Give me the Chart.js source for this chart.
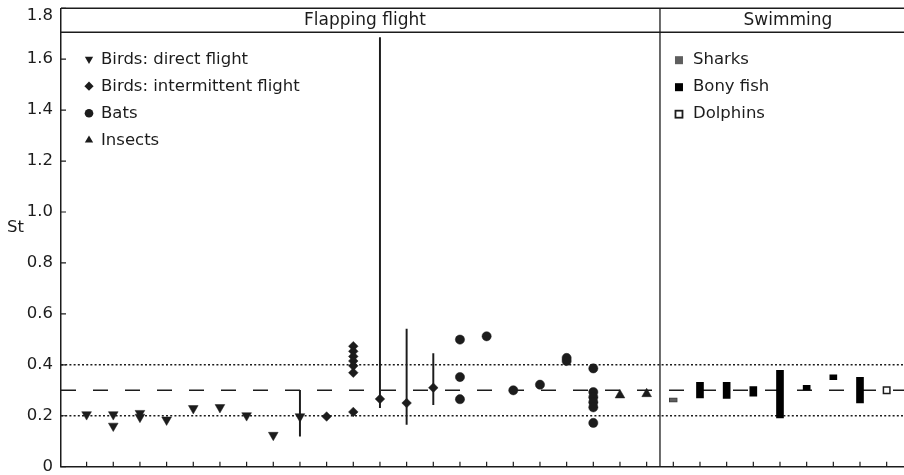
<!DOCTYPE html>
<html lang="en">
<head>
<meta charset="UTF-8">
<title>Strouhal number of flying and swimming animals</title>
<script src="https://cdn.jsdelivr.net/npm/chart.js@4/dist/chart.umd.min.js"></script>
<style>
  html, body { margin: 0; padding: 0; background: #fff; }
  canvas { display: block; }
</style>
</head>
<body>
<canvas id="st" width="904" height="475"></canvas>
<script>
// ---------------------------------------------------------------------------
// Data: one x slot per species / study, St values read per slot
// ---------------------------------------------------------------------------

const xSlots = [1, 2, 3, 4, 5, 6, 7, 8, 9, 10, 11, 12, 13, 14, 15, 16, 17, 18, 19, 20, 21, 22,
                23, 24, 25, 26, 27, 28, 29, 30, 31];
const yTicks = [0, 0.2, 0.4, 0.6, 0.8, 1.0, 1.2, 1.4, 1.6, 1.8];

// Flapping flight
const directX  = [1, 2, 2, 3, 3, 4, 5, 6, 7, 8, 9];
const directSt = [0.205, 0.205, 0.16, 0.21, 0.195, 0.184, 0.229, 0.233, 0.201, 0.124, 0.197];

const interX  = [10, 11, 11, 11, 11, 11, 11, 11, 12, 13, 14];
const interSt = [0.197, 0.473, 0.453, 0.433, 0.415, 0.396, 0.369, 0.215, 0.266, 0.25, 0.31];

const batX  = [15, 15, 15, 16, 17, 18, 19, 19, 20, 20, 20, 20, 20, 20];
const batSt = [0.499, 0.352, 0.265, 0.512, 0.3, 0.322, 0.427, 0.415,
               0.386, 0.293, 0.273, 0.253, 0.233, 0.172];

const insectX  = [21, 22];
const insectSt = [0.281, 0.286];

// Range whiskers on some flight entries
const errX  = [9, 12, 13, 14];
const errLo = [0.12, 0.232, 0.166, 0.244];
const errHi = [0.30, 1.685, 0.54, 0.444];

// Swimming (ranges)
const sharkX  = [23];
const sharkLo = [0.253];
const sharkHi = [0.27];

const fishX  = [24, 25, 26, 27, 28, 29, 30];
const fishLo = [0.27, 0.268, 0.277, 0.192, 0.301, 0.342, 0.25];
const fishHi = [0.331, 0.331, 0.315, 0.378, 0.319, 0.361, 0.351];

const dolphinX  = [31];
const dolphinSt = [0.3];

// Reference band
const dottedAt = [0.2, 0.4];
const dashedAt = [0.3];

// Panels
const panelSplit   = 22.5;
const headerBottom = 1.706;
const headerText   = ['Flapping flight', 'Swimming'];
const headerAt     = [11.44, 27.3];

const flightLegend = ['Birds: direct flight', 'Birds: intermittent flight', 'Bats', 'Insects'];
const swimLegend   = ['Sharks', 'Bony fish', 'Dolphins'];

// ---------------------------------------------------------------------------

const X_MIN = 0.04;
const X_MAX = 31.65;
const INK   = '#1c1c1c';
const FONT  = '"DejaVu Sans", "Liberation Sans", Arial, sans-serif';
const TICK_FONT = { family: FONT, size: 16.5, lineHeight: 1 };

const pts   = (xs, ys) => xs.map((x, i) => ({ x, y: ys[i] }));
const spans = (xs, lo, hi) => xs.map((x, i) => ({ x, y: [lo[i], hi[i]] }));
const hline = (v) => [{ x: X_MIN, y: v }, { x: X_MAX, y: v }];

const marker = { type: 'scatter', backgroundColor: INK, borderColor: INK, borderWidth: 0.5, order: 1 };
const range  = { type: 'bar', grouped: false, borderSkipped: false, order: 2 };

const datasets = [
  { ...marker, data: pts(directX, directSt), pointStyle: 'triangle', pointRotation: 180, pointRadius: 5.6 },
  { ...marker, data: pts(interX, interSt), pointStyle: 'rectRot', pointRadius: 4.8 },
  { ...marker, data: pts(batX, batSt), pointStyle: 'circle', pointRadius: 4.6 },
  { ...marker, data: pts(insectX, insectSt), pointStyle: 'triangle', pointRadius: 5.6 },
  { ...marker, data: pts(dolphinX, dolphinSt), pointStyle: 'rect', pointRadius: 4.6,
    backgroundColor: '#fff', borderWidth: 1.5 },

  { ...range, data: spans(errX, errLo, errHi), backgroundColor: INK, barThickness: 1.3, borderWidth: 0 },
  { ...range, data: spans(sharkX, sharkLo, sharkHi), backgroundColor: '#5e5e5e',
    borderColor: '#3a3a3a', borderWidth: 1, barThickness: 8 },
  { ...range, data: spans(fishX, fishLo, fishHi), backgroundColor: '#000', borderWidth: 0, barThickness: 7 },

  ...dottedAt.map(v => ({ type: 'line', data: hline(v), borderColor: INK, borderWidth: 1.5,
    borderDash: [2, 2.2], pointRadius: 0, order: 5 })),
  ...dashedAt.map(v => ({ type: 'line', data: hline(v), borderColor: INK, borderWidth: 1.4,
    borderDash: [15, 17], pointRadius: 0, order: 5 })),
];

// Frame, header band, panel divider, inward ticks and the two panel legends
const decor = {
  id: 'decor',
  afterDraw(chart) {
    const { ctx, chartArea: a, scales: { x, y } } = chart;
    const px = (v) => x.getPixelForValue(v);
    const py = (v) => y.getPixelForValue(v);
    ctx.save();
    ctx.strokeStyle = INK;
    ctx.fillStyle = INK;

    // header band
    ctx.lineWidth = 1.5;
    ctx.beginPath();
    ctx.moveTo(a.left, a.top);   ctx.lineTo(a.right, a.top);
    ctx.moveTo(a.left, py(headerBottom)); ctx.lineTo(a.right, py(headerBottom));
    ctx.stroke();
    ctx.lineWidth = 1.3;
    ctx.beginPath();
    ctx.moveTo(px(panelSplit), a.top); ctx.lineTo(px(panelSplit), a.bottom);
    ctx.stroke();

    ctx.font = `17px ${FONT}`;
    ctx.textAlign = 'center';
    ctx.textBaseline = 'middle';
    const bandMid = (a.top + py(headerBottom)) / 2;
    headerText.forEach((t, i) => ctx.fillText(t, px(headerAt[i]), bandMid));

    // ticks pointing into the plot
    ctx.lineWidth = 1.2;
    ctx.beginPath();
    xSlots.forEach(v => { ctx.moveTo(px(v), a.bottom); ctx.lineTo(px(v), a.bottom - 5); });
    yTicks.forEach(v => { ctx.moveTo(a.left, py(v)); ctx.lineTo(a.left + 5, py(v)); });
    ctx.stroke();

    // top tick label sits a little below its tick so it stays clear of the edge
    ctx.font = `${TICK_FONT.size}px ${FONT}`;
    ctx.textAlign = 'right';
    ctx.fillText('1.8', a.left - 8, py(1.8) + 7);

    // axis title
    ctx.textAlign = 'left';
    ctx.fillText('St', 7, py(0.94));

    // flight legend
    const shapes = [
      { pointStyle: 'triangle', rotation: 180, radius: 4.8 },
      { pointStyle: 'rectRot', rotation: 0, radius: 4.6 },
      { pointStyle: 'circle', rotation: 0, radius: 4.3 },
      { pointStyle: 'triangle', rotation: 0, radius: 4.8 },
    ];
    const lx = a.left + 28, ly = py(1.6), step = 27;
    flightLegend.forEach((t, i) => {
      Chart.helpers.drawPoint(ctx, { ...shapes[i], borderWidth: 0 }, lx, ly + i * step);
      ctx.fillText(t, lx + 12, ly + i * step + 1);
    });

    // swimming legend
    const sx = px(panelSplit) + 19;
    swimLegend.forEach((t, i) => {
      const cy = ly + 1 + i * step;
      if (i === 2) {
        ctx.fillStyle = '#fff';
        ctx.fillRect(sx - 3.5, cy - 3.5, 7, 7);
        ctx.lineWidth = 1.8;
        ctx.strokeRect(sx - 3.5, cy - 3.5, 7, 7);
      } else {
        ctx.fillStyle = i === 0 ? '#5e5e5e' : '#000';
        ctx.fillRect(sx - 4, cy - 4, 8, 8);
      }
      ctx.fillStyle = INK;
      ctx.fillText(t, sx + 14, cy);
    });
    ctx.restore();
  }
};

new Chart(document.getElementById('st'), {
  type: 'scatter',
  data: { datasets },
  plugins: [decor],
  options: {
    responsive: false,
    animation: false,
    layout: { autoPadding: false, padding: { top: 8, left: 0, right: 0, bottom: 0 } },
    plugins: { legend: { display: false }, tooltip: { enabled: false } },
    scales: {
      x: {
        type: 'linear', min: X_MIN, max: X_MAX, offset: false,
        ticks: { display: false },
        grid: { drawOnChartArea: false, drawTicks: false },
        border: { display: true, color: INK, width: 1.5 },
        afterFit(s) { s.height = 8.3; },
      },
      y: {
        type: 'linear', min: 0, max: 1.8,
        afterBuildTicks(s) { s.ticks = yTicks.map(v => ({ value: v })); },
        ticks: {
          padding: 0, color: INK, font: TICK_FONT,
          callback: (v) => v === 0 ? '0' : (v === 1.8 ? '' : v.toFixed(1)),
        },
        // outward tick space only sets the label gap; the visible ticks point inward
        grid: { drawOnChartArea: false, drawTicks: true, tickLength: 8, tickColor: 'rgba(0,0,0,0)' },
        border: { display: true, color: INK, width: 1.5 },
        afterFit(s) { s.width = 61; },
      },
    },
  },
});
</script>
</body>
</html>
